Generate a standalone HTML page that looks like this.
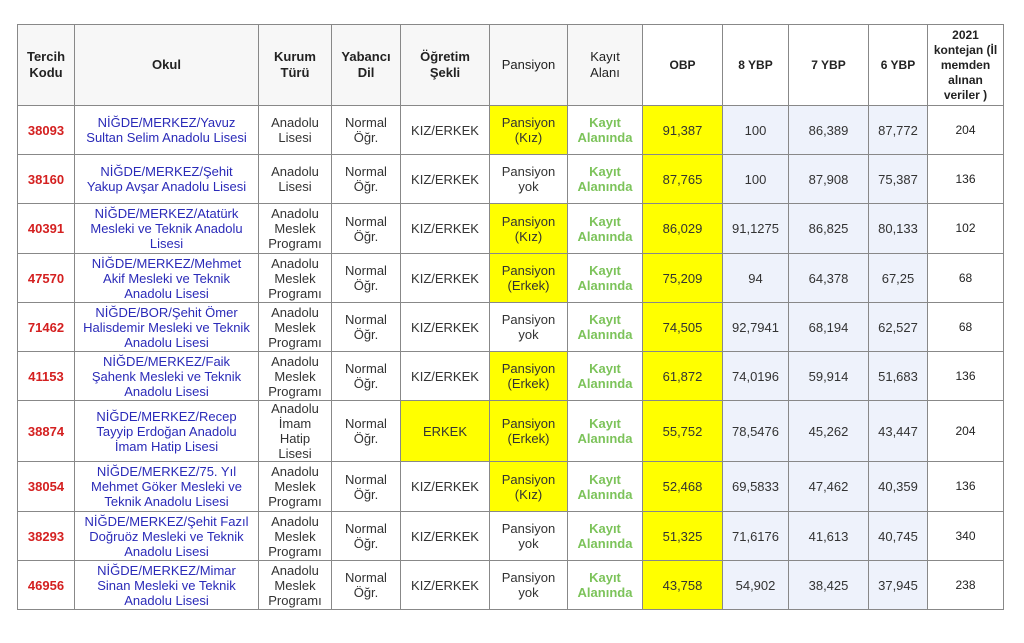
<!DOCTYPE html>
<html><head><meta charset="utf-8"><style>
body{margin:0;background:#fff;width:1024px;height:643px;overflow:hidden}
table{position:absolute;left:17px;top:24px;border-collapse:collapse;table-layout:fixed;font-family:"Liberation Sans",sans-serif;font-size:13px;color:#333}
td{border:1px solid #888;text-align:center;vertical-align:middle;padding:0;line-height:15px}
tr.h td{background:#f7f7f7;font-size:13px;color:#222;line-height:16px}
tr.h td.w{background:#fff;font-weight:bold;font-size:12px}
.c{color:#d42020;font-weight:bold}
.o{color:#2a2ab8}
.y{background:#ffff00}
.g{color:#7cc35a;font-weight:bold}
.b{background:#eef2fb}
.s{font-size:12px;color:#222}
</style></head><body>
<table>
<colgroup><col style="width:57px"><col style="width:184px"><col style="width:73px"><col style="width:69px"><col style="width:89px"><col style="width:78px"><col style="width:75px"><col style="width:80px"><col style="width:66px"><col style="width:80px"><col style="width:59px"><col style="width:76px"></colgroup>
<tr class="h" style="height:81px"><td><b>Tercih<br>Kodu</b></td><td><b>Okul</b></td><td><b>Kurum<br>Türü</b></td><td><b>Yabancı<br>Dil</b></td><td><b>Öğretim<br>Şekli</b></td><td>Pansiyon</td><td>Kayıt<br>Alanı</td><td class="w">OBP</td><td class="w">8 YBP</td><td class="w">7 YBP</td><td class="w">6 YBP</td><td class="w" style="line-height:15px">2021<br>kontejan (İl<br>memden<br>alınan<br>veriler )</td></tr>
<tr style="height:49px"><td class="c">38093</td><td class="o">NİĞDE/MERKEZ/Yavuz<br>Sultan Selim Anadolu Lisesi</td><td>Anadolu<br>Lisesi</td><td>Normal<br>Öğr.</td><td>KIZ/ERKEK</td><td class="y">Pansiyon<br>(Kız)</td><td class="g">Kayıt<br>Alanında</td><td class="y">91,387</td><td class="b">100</td><td class="b">86,389</td><td class="b">87,772</td><td class="s">204</td></tr>
<tr style="height:49px"><td class="c">38160</td><td class="o">NİĞDE/MERKEZ/Şehit<br>Yakup Avşar Anadolu Lisesi</td><td>Anadolu<br>Lisesi</td><td>Normal<br>Öğr.</td><td>KIZ/ERKEK</td><td>Pansiyon<br>yok</td><td class="g">Kayıt<br>Alanında</td><td class="y">87,765</td><td class="b">100</td><td class="b">87,908</td><td class="b">75,387</td><td class="s">136</td></tr>
<tr style="height:50px"><td class="c">40391</td><td class="o">NİĞDE/MERKEZ/Atatürk<br>Mesleki ve Teknik Anadolu<br>Lisesi</td><td>Anadolu<br>Meslek<br>Programı</td><td>Normal<br>Öğr.</td><td>KIZ/ERKEK</td><td class="y">Pansiyon<br>(Kız)</td><td class="g">Kayıt<br>Alanında</td><td class="y">86,029</td><td class="b">91,1275</td><td class="b">86,825</td><td class="b">80,133</td><td class="s">102</td></tr>
<tr style="height:49px"><td class="c">47570</td><td class="o">NİĞDE/MERKEZ/Mehmet<br>Akif Mesleki ve Teknik<br>Anadolu Lisesi</td><td>Anadolu<br>Meslek<br>Programı</td><td>Normal<br>Öğr.</td><td>KIZ/ERKEK</td><td class="y">Pansiyon<br>(Erkek)</td><td class="g">Kayıt<br>Alanında</td><td class="y">75,209</td><td class="b">94</td><td class="b">64,378</td><td class="b">67,25</td><td class="s">68</td></tr>
<tr style="height:49px"><td class="c">71462</td><td class="o">NİĞDE/BOR/Şehit Ömer<br>Halisdemir Mesleki ve Teknik<br>Anadolu Lisesi</td><td>Anadolu<br>Meslek<br>Programı</td><td>Normal<br>Öğr.</td><td>KIZ/ERKEK</td><td>Pansiyon<br>yok</td><td class="g">Kayıt<br>Alanında</td><td class="y">74,505</td><td class="b">92,7941</td><td class="b">68,194</td><td class="b">62,527</td><td class="s">68</td></tr>
<tr style="height:49px"><td class="c">41153</td><td class="o">NİĞDE/MERKEZ/Faik<br>Şahenk Mesleki ve Teknik<br>Anadolu Lisesi</td><td>Anadolu<br>Meslek<br>Programı</td><td>Normal<br>Öğr.</td><td>KIZ/ERKEK</td><td class="y">Pansiyon<br>(Erkek)</td><td class="g">Kayıt<br>Alanında</td><td class="y">61,872</td><td class="b">74,0196</td><td class="b">59,914</td><td class="b">51,683</td><td class="s">136</td></tr>
<tr style="height:61px"><td class="c">38874</td><td class="o">NİĞDE/MERKEZ/Recep<br>Tayyip Erdoğan Anadolu<br>İmam Hatip Lisesi</td><td>Anadolu<br>İmam<br>Hatip<br>Lisesi</td><td>Normal<br>Öğr.</td><td class="y">ERKEK</td><td class="y">Pansiyon<br>(Erkek)</td><td class="g">Kayıt<br>Alanında</td><td class="y">55,752</td><td class="b">78,5476</td><td class="b">45,262</td><td class="b">43,447</td><td class="s">204</td></tr>
<tr style="height:50px"><td class="c">38054</td><td class="o">NİĞDE/MERKEZ/75. Yıl<br>Mehmet Göker Mesleki ve<br>Teknik Anadolu Lisesi</td><td>Anadolu<br>Meslek<br>Programı</td><td>Normal<br>Öğr.</td><td>KIZ/ERKEK</td><td class="y">Pansiyon<br>(Kız)</td><td class="g">Kayıt<br>Alanında</td><td class="y">52,468</td><td class="b">69,5833</td><td class="b">47,462</td><td class="b">40,359</td><td class="s">136</td></tr>
<tr style="height:49px"><td class="c">38293</td><td class="o">NİĞDE/MERKEZ/Şehit Fazıl<br>Doğruöz Mesleki ve Teknik<br>Anadolu Lisesi</td><td>Anadolu<br>Meslek<br>Programı</td><td>Normal<br>Öğr.</td><td>KIZ/ERKEK</td><td>Pansiyon<br>yok</td><td class="g">Kayıt<br>Alanında</td><td class="y">51,325</td><td class="b">71,6176</td><td class="b">41,613</td><td class="b">40,745</td><td class="s">340</td></tr>
<tr style="height:49px"><td class="c">46956</td><td class="o">NİĞDE/MERKEZ/Mimar<br>Sinan Mesleki ve Teknik<br>Anadolu Lisesi</td><td>Anadolu<br>Meslek<br>Programı</td><td>Normal<br>Öğr.</td><td>KIZ/ERKEK</td><td>Pansiyon<br>yok</td><td class="g">Kayıt<br>Alanında</td><td class="y">43,758</td><td class="b">54,902</td><td class="b">38,425</td><td class="b">37,945</td><td class="s">238</td></tr>
</table>
</body></html>
